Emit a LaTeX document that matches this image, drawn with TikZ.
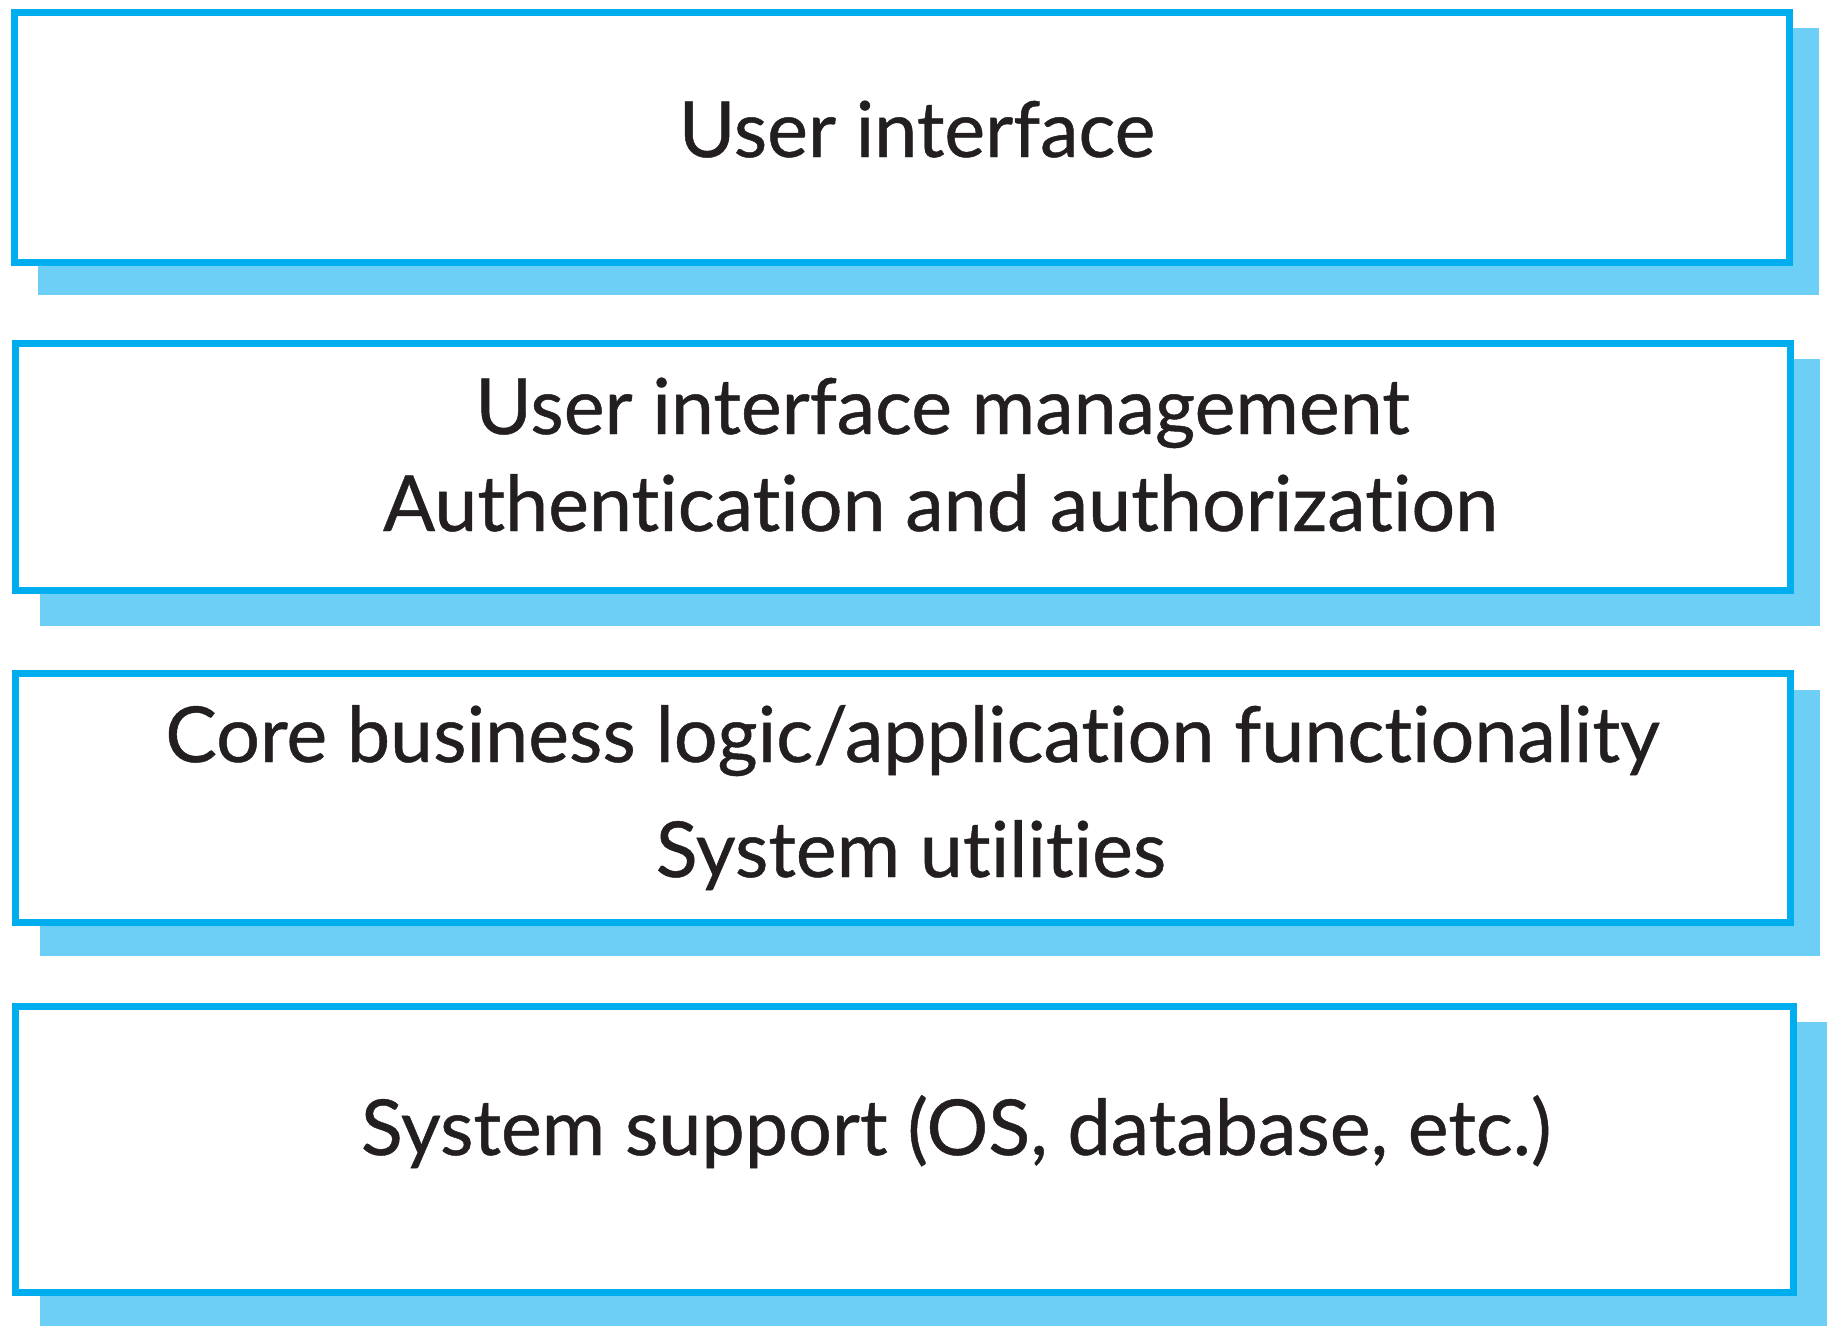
\documentclass[tikz,border=0pt]{standalone}
\usepackage{fontspec}
\setmainfont{Lato}[RawFeature={-liga}, FakeBold=0.6]
\definecolor{bordercol}{HTML}{00AEEF}
\definecolor{shadowcol}{HTML}{6DCFF6}
\definecolor{textcol}{HTML}{231F20}
\tikzset{
  layerbox/.style={draw=bordercol, line width=3.5pt, fill=white, rectangle, inner sep=0pt, outer sep=0pt},
  shadowbox/.style={fill=shadowcol, draw=none, rectangle, inner sep=0pt, outer sep=0pt},
  layertext/.style={anchor=base, inner sep=0pt, text=textcol, font=\fontsize{38.6pt}{46pt}\selectfont}
}
\begin{document}
\begin{tikzpicture}[x=0.5pt, y=-0.5pt]
\useasboundingbox (0,0) rectangle (1837,1338);
% shadows
\node[shadowbox, minimum width=890.5pt, minimum height=133.5pt] (s1) at (928.5,161.5) {};
\node[shadowbox, minimum width=890pt, minimum height=133.5pt] (s2) at (930,492.5) {};
\node[shadowbox, minimum width=890pt, minimum height=133pt] (s3) at (930,823) {};
\node[shadowbox, minimum width=893.5pt, minimum height=152pt] (s4) at (933.5,1174) {};
% boxes
\node[layerbox, minimum width=887.5pt, minimum height=124.75pt] (b1) at (901.5,137.25) {};
\node[layerbox, minimum width=887.5pt, minimum height=123.5pt] (b2) at (903,467) {};
\node[layerbox, minimum width=887.5pt, minimum height=124.5pt] (b3) at (903,798) {};
\node[layerbox, minimum width=889pt, minimum height=143pt] (b4) at (904.5,1149.5) {};
% texts
\node[layertext] (t1) at (917,157) {User interface};
\node[layertext] (t2a) at (942.5,434) {User interface management};
\node[layertext] (t2b) at (940.5,531) {Authentication and authorization};
\node[layertext] (t3a) at (912.5,762) {Core business logic/application functionality};
\node[layertext] (t3b) at (911,877) {System utilities};
\node[layertext] (t4) at (956,1155) {System support (OS, database, etc.)};
\end{tikzpicture}
\end{document}
